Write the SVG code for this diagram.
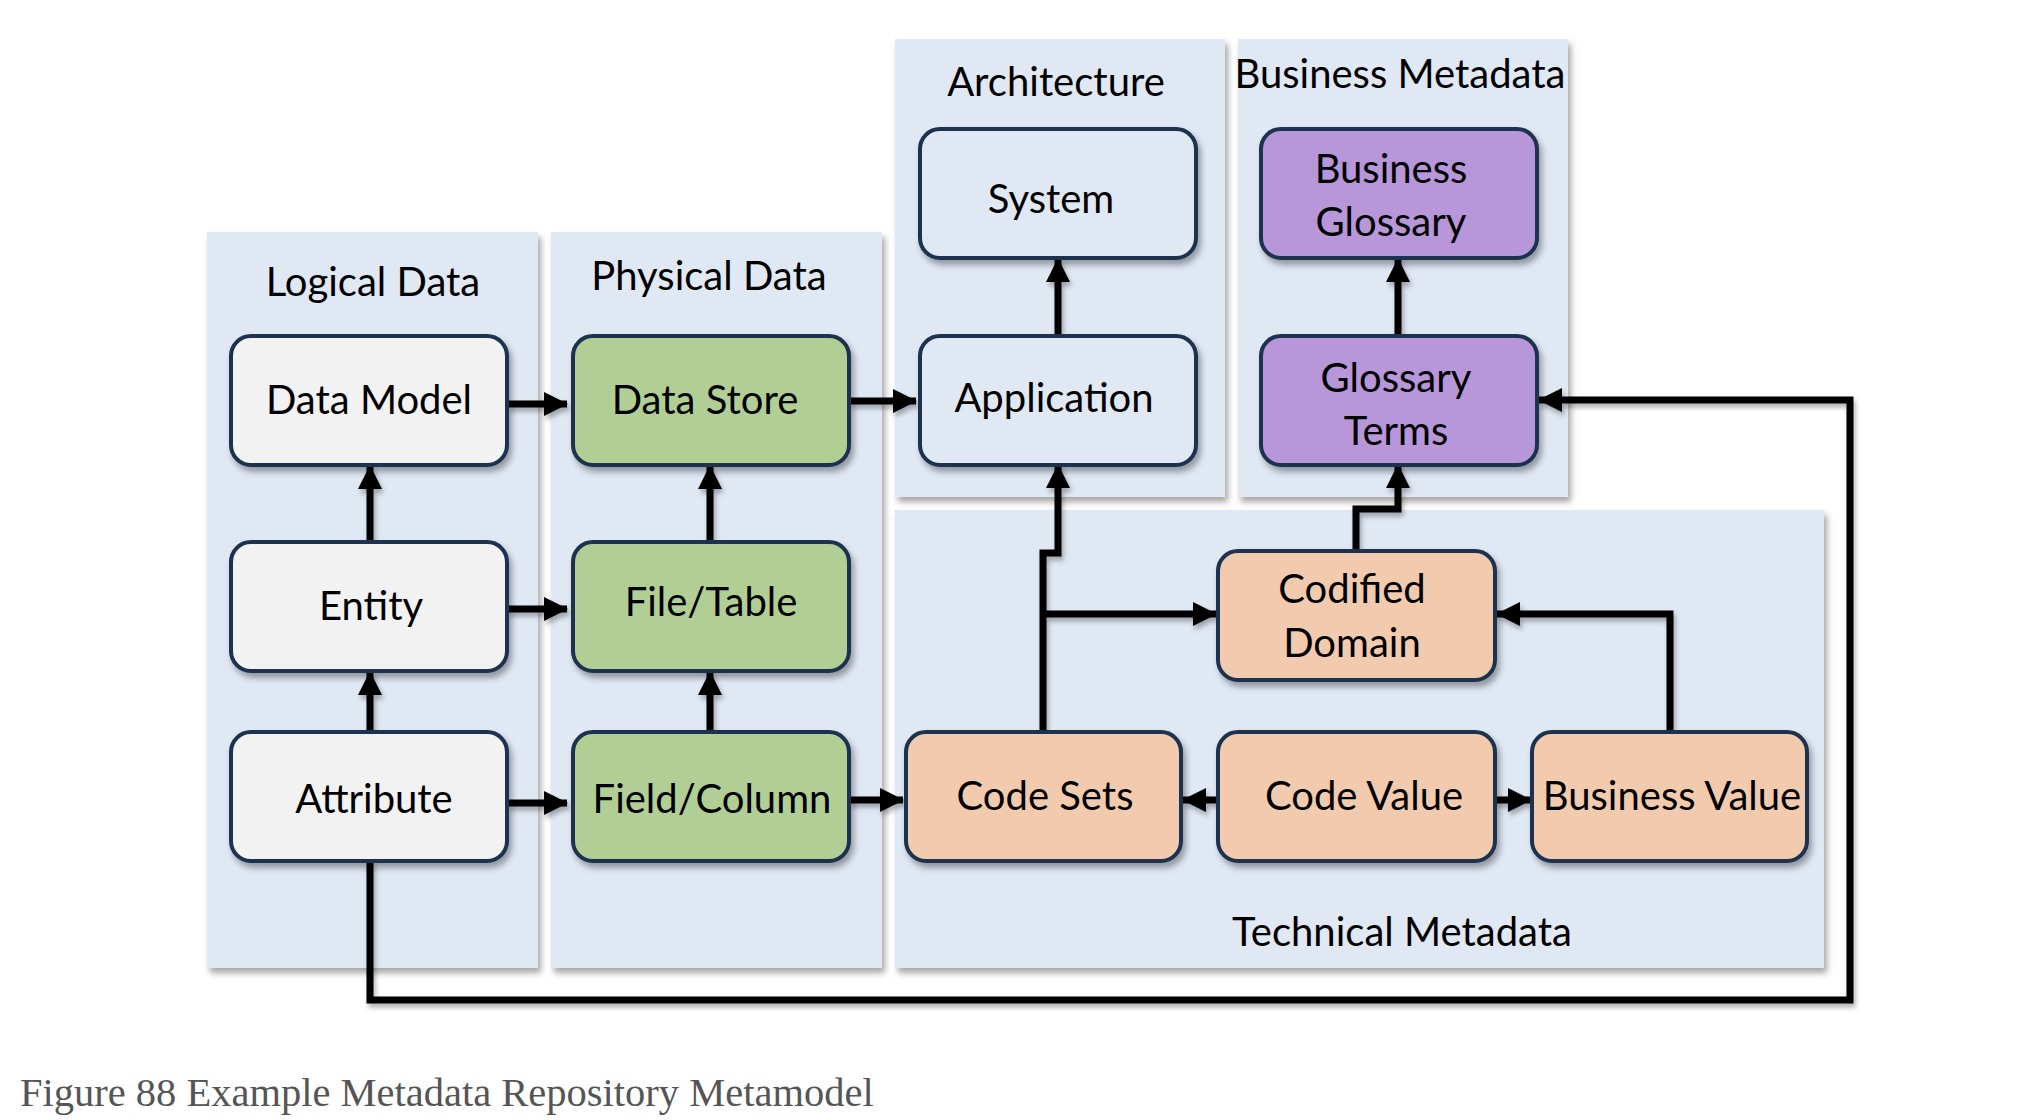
<svg xmlns="http://www.w3.org/2000/svg" width="2024" height="1120" viewBox="0 0 2024 1120">
<defs>
<filter id="sh" x="-10%" y="-10%" width="130%" height="130%"><feDropShadow dx="3" dy="5" stdDeviation="3" flood-color="#000" flood-opacity="0.35"/></filter>
<filter id="lsh" x="-5%" y="-5%" width="110%" height="110%"><feDropShadow dx="2" dy="4" stdDeviation="2.5" flood-color="#000" flood-opacity="0.3"/></filter>
<marker id="ah" markerUnits="userSpaceOnUse" markerWidth="26" markerHeight="26" refX="23" refY="12" orient="auto"><path d="M0,0 L24,12 L0,24 z" fill="#000"/></marker>
</defs>
<style>
.panel{fill:#E0E8F4;filter:url(#sh)}
.box{stroke:#1C3250;stroke-width:4;filter:url(#sh)}
.gray{fill:#F2F2F2}
.green{fill:#B1CF95}
.blue{fill:#E0E8F4}
.purple{fill:#B796D9}
.orange{fill:#F2CBAE}
text{font-family:Lato,"Open Sans","Liberation Sans",sans-serif;font-size:40px;fill:#000;text-anchor:middle}
.cap{font-family:"Liberation Serif","Times New Roman",serif;font-size:40.5px;fill:#555;text-anchor:start}
.c{fill:none;stroke:#000;stroke-width:7;marker-end:url(#ah)}
</style>
<rect width="2024" height="1120" fill="#fff"/>

<g id="panels">
<g id="panel-logical"><rect class="panel" x="207" y="232" width="331" height="736"/><text x="373" y="296">Logical Data</text></g>
<g id="panel-physical"><rect class="panel" x="551" y="232" width="331" height="736"/><text x="709" y="290">Physical Data</text></g>
<g id="panel-architecture"><rect class="panel" x="895" y="39" width="330" height="458"/><text x="1056" y="96">Architecture</text></g>
<g id="panel-business"><rect class="panel" x="1238" y="39" width="330" height="458"/><text x="1400" y="88">Business Metadata</text></g>
<g id="panel-technical"><rect class="panel" x="895" y="510" width="929" height="458"/><text x="1402" y="946">Technical Metadata</text></g>
</g>

<g id="connectors" filter="url(#lsh)">
<path class="c" d="M507,404 H567"/>
<path class="c" d="M507,609 H567"/>
<path class="c" d="M507,803 H567"/>
<path class="c" d="M370,542 V466"/>
<path class="c" d="M370,732 V672"/>
<path class="c" d="M710,542 V466"/>
<path class="c" d="M710,732 V672"/>
<path class="c" d="M849,401 H916"/>
<path class="c" d="M849,800 H903"/>
<path class="c" d="M1058,335 V259"/>
<path class="c" d="M1398,335 V259"/>
<path class="c" d="M1043,732 V553 H1058 V465"/>
<path class="c" d="M1043,614 H1216"/>
<path class="c" d="M1356,551 V509 H1398 V465"/>
<path class="c" d="M1670,732 V614 H1497"/>
<path class="c" d="M1219,800 H1183"/>
<path class="c" d="M1495,800 H1531"/>
<path class="c" d="M370,861 V1000 H1850 V400 H1539"/>
</g>

<g id="node-data-model"><rect class="box gray" x="231" y="336" width="276" height="129" rx="20"/><text x="369" y="414">Data Model</text></g>
<g id="node-data-store"><rect class="box green" x="573" y="336" width="276" height="129" rx="20"/><text x="705" y="414">Data Store</text></g>
<g id="node-entity"><rect class="box gray" x="231" y="542" width="276" height="129" rx="20"/><text x="371" y="620">Entity</text></g>
<g id="node-file-table"><rect class="box green" x="573" y="542" width="276" height="129" rx="20"/><text x="711" y="616">File/Table</text></g>
<g id="node-attribute"><rect class="box gray" x="231" y="732" width="276" height="129" rx="20"/><text x="374" y="813">Attribute</text></g>
<g id="node-field-column"><rect class="box green" x="573" y="732" width="276" height="129" rx="20"/><text x="712" y="813">Field/Column</text></g>
<g id="node-system"><rect class="box blue" x="920" y="129" width="276" height="129" rx="20"/><text x="1051" y="213">System</text></g>
<g id="node-application"><rect class="box blue" x="920" y="336" width="276" height="129" rx="20"/><text x="1054" y="412">Application</text></g>
<g id="node-business-glossary"><rect class="box purple" x="1261" y="129" width="276" height="129" rx="20"/><text x="1391" y="183">Business</text><text x="1391" y="236">Glossary</text></g>
<g id="node-glossary-terms"><rect class="box purple" x="1261" y="336" width="276" height="129" rx="20"/><text x="1396" y="392">Glossary</text><text x="1396" y="445">Terms</text></g>
<g id="node-codified-domain"><rect class="box orange" x="1218" y="551" width="277" height="129" rx="20"/><text x="1352" y="603">Codified</text><text x="1352" y="657">Domain</text></g>
<g id="node-code-sets"><rect class="box orange" x="906" y="732" width="275" height="129" rx="20"/><text x="1045" y="810">Code Sets</text></g>
<g id="node-code-value"><rect class="box orange" x="1218" y="732" width="277" height="129" rx="20"/><text x="1364" y="810">Code Value</text></g>
<g id="node-business-value"><rect class="box orange" x="1532" y="732" width="275" height="129" rx="20"/><text x="1672" y="810">Business Value</text></g>

<text class="cap" x="20" y="1106">Figure 88 Example Metadata Repository Metamodel</text>
</svg>
